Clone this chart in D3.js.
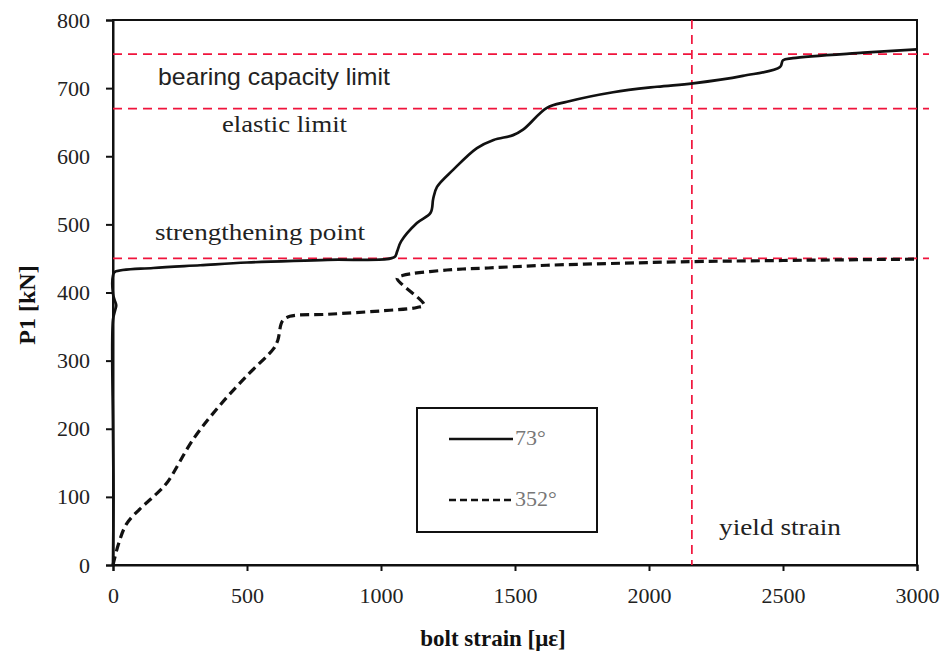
<!DOCTYPE html>
<html lang="en">
<head>
    <meta charset="UTF-8">
    <title>P1 vs bolt strain</title>
    <script src="https://d3js.org/d3.v7.min.js"></script>
    <style>
        body { margin: 0; background: #fff; }
        svg { display: block; }
    </style>
</head>
<body>
<svg width="942" height="659"></svg>
<script>
    // 73 deg curve (strain, load)
    var strain73 = [0, 2, 0, 0, 8, 12, 6, 0, 0, 6, 150, 325, 500, 800, 1050, 1060, 1075, 1134, 1185, 1195, 1209, 1269, 1358, 1420, 1493, 1530, 1619, 1694, 1866, 2030, 2164, 2350, 2489, 2500, 2537, 2800, 3000];
    var load73 = [0, 100, 200, 360, 374, 381, 389, 398, 425, 430, 436, 440, 444, 448, 452, 460, 475, 502, 517, 538, 555, 580, 612, 624, 631, 639, 671, 680, 694, 702, 707, 718, 731, 741, 744, 752, 757];

    // 352 deg curve
    var strain352 = [0, 20, 50, 100, 150, 200, 300, 400, 500, 600, 615, 632, 660, 800, 1000, 1134, 1160, 1060, 1080, 1246, 1400, 1619, 1900, 2116, 2500, 3000];
    var load352 = [0, 30, 60, 82, 100, 120, 185, 235, 278, 318, 330, 358, 365, 368, 373, 378, 382, 421, 425, 433, 436, 440, 443, 445, 447, 449];

    var xTicks = [0, 500, 1000, 1500, 2000, 2500, 3000];
    var yTicks = [0, 100, 200, 300, 400, 500, 600, 700, 800];

    var hLines = [750, 670, 450];
    var hLabels = ["bearing capacity limit", "elastic limit", "strengthening point"];
    var vLine = 2160;
    var vLabel = "yield strain";

    var legendNames = ["73\u00b0", "352\u00b0"];

    var margin = { left: 113, top: 20, right: 25, bottom: 94 };
    var width = 942, height = 659;
    var serif = "'Liberation Serif', 'Times New Roman', serif";
    var sans = "'Liberation Sans', Arial, sans-serif";

    var svg = d3.select("svg");

    var x = d3.scaleLinear().domain([0, 3000]).range([margin.left, width - margin.right]);
    var y = d3.scaleLinear().domain([0, 800]).range([height - margin.bottom, margin.top]);

    // box
    svg.append("rect")
        .attr("x", x(0)).attr("y", y(800))
        .attr("width", x(3000) - x(0)).attr("height", y(0) - y(800))
        .attr("fill", "none").attr("stroke", "#111").attr("stroke-width", 2);

    // axes
    svg.append("g")
        .attr("transform", "translate(0," + y(0) + ")")
        .call(d3.axisBottom(x).tickValues(xTicks).tickFormat(d3.format("d")).tickSize(6).tickPadding(16));
    svg.append("g")
        .attr("transform", "translate(" + x(0) + ",0)")
        .call(d3.axisLeft(y).tickValues(yTicks).tickFormat(d3.format("d")).tickSize(7).tickPadding(16));
    svg.selectAll(".tick text")
        .style("font-family", serif).style("font-size", "22px").attr("fill", "#222");
    svg.selectAll(".domain").attr("stroke", "#111").attr("stroke-width", 2);
    svg.selectAll(".tick line").attr("stroke", "#111").attr("stroke-width", 2);

    // reference lines
    var red = "#f0143c";
    svg.selectAll("line.hline")
        .data(hLines)
        .enter()
        .append("line")
        .attr("class", "hline")
        .attr("x1", x(0)).attr("x2", x(3000) + 12)
        .attr("y1", function(d) { return y(d); })
        .attr("y2", function(d) { return y(d); })
        .attr("stroke", red).attr("stroke-width", 1.7)
        .attr("stroke-dasharray", "9,6");

    svg.append("line")
        .attr("x1", x(vLine)).attr("x2", x(vLine))
        .attr("y1", y(800)).attr("y2", y(0))
        .attr("stroke", red).attr("stroke-width", 1.7)
        .attr("stroke-dasharray", "9,6");

    // curves
    var line = d3.line()
        .x(function(d) { return x(d[0]); })
        .y(function(d) { return y(d[1]); })
        .curve(d3.curveCatmullRom.alpha(0.5));

    svg.append("path")
        .attr("d", line(d3.zip(strain73, load73)))
        .attr("fill", "none").attr("stroke", "#111").attr("stroke-width", 2.7)
        .attr("stroke-linejoin", "round");

    svg.append("path")
        .attr("d", line(d3.zip(strain352, load352)))
        .attr("fill", "none").attr("stroke", "#111").attr("stroke-width", 3.2)
        .attr("stroke-dasharray", "9,5");

    // reference labels
    function label(txt, px, py, len, fam) {
        svg.append("text")
            .attr("x", px).attr("y", py)
            .style("font-family", fam).style("font-size", "24px")
            .attr("fill", "#222")
            .attr("textLength", len).attr("lengthAdjust", "spacingAndGlyphs")
            .text(txt);
    }
    label(hLabels[0], 158, 85, 232, sans);
    label(hLabels[1], 222, 132, 125, serif);
    label(hLabels[2], 155, 240, 210, serif);
    label(vLabel, 719, 535, 122, serif);

    // axis titles
    svg.append("text")
        .attr("transform", "translate(35,305) rotate(-90)")
        .attr("text-anchor", "middle")
        .style("font-family", serif).style("font-weight", "bold").style("font-size", "24px")
        .attr("fill", "#111")
        .text("P1 [kN]");
    svg.append("text")
        .attr("x", 493).attr("y", 646)
        .attr("text-anchor", "middle")
        .style("font-family", serif).style("font-weight", "bold").style("font-size", "23px")
        .attr("fill", "#111")
        .text("bolt strain [\u03bc\u03b5]");

    // legend
    var lg = svg.append("g").attr("transform", "translate(417,408)");
    lg.append("rect")
        .attr("width", 180).attr("height", 124)
        .attr("fill", "#fff").attr("stroke", "#111").attr("stroke-width", 2);
    var items = lg.selectAll("g.item")
        .data(legendNames)
        .enter()
        .append("g")
        .attr("class", "item")
        .attr("transform", function(d, i) { return "translate(0," + (31 + i * 61) + ")"; });
    items.append("line")
        .attr("x1", 32).attr("x2", 96)
        .attr("stroke", "#111").attr("stroke-width", function(d, i) { return i ? 2.4 : 2.7; })
        .attr("stroke-dasharray", function(d, i) { return i ? "7,4" : null; });
    items.append("text")
        .attr("x", 98).attr("y", 6)
        .style("font-family", serif).style("font-size", "22px")
        .attr("fill", "#777")
        .text(function(d) { return d; });
</script>
</body>
</html>
